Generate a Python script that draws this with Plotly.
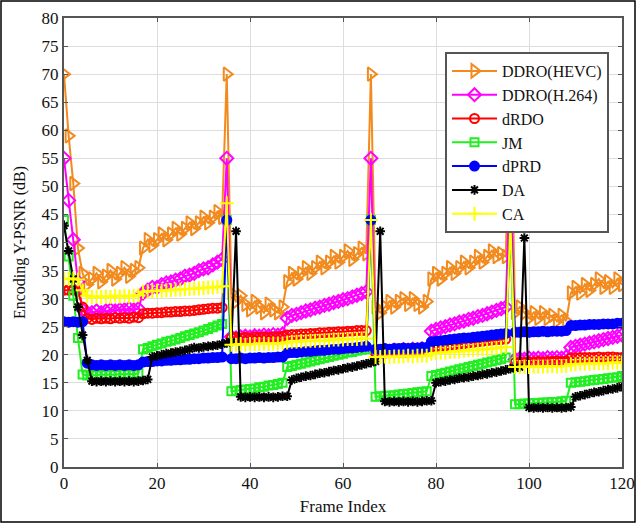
import plotly.graph_objects as go

frames = list(range(121))

ddro_hevc = [
    70, 59, 50.5, 39, 34.5, 32.5, 33.5, 34.5, 33, 34, 35, 33.5, 34.5, 35.5, 34, 35, 35.5,
    39, 40.5, 39.5, 40.5, 41.5, 40.5, 41.5, 42.5, 41.5, 42.5, 43.5, 42.5, 43.5, 44.5, 43.5, 44.5, 45.5, 44.5,
    70,
    31, 29.5, 30.5, 29, 28, 29.5, 28.5, 27.5, 29, 28, 27.5, 28.5,
    33, 34.5, 33.5, 34.5, 35.5, 34.5, 35.5, 36.5, 35.5, 36.5, 37.5, 36.5, 37.5, 38.5, 37, 38, 39, 38,
    70,
    28.5, 27.5, 28.5, 29.5, 28.5, 29.5, 30, 29, 30, 29, 28.5, 29.5,
    33.5, 34.5, 33.5, 34.5, 35.5, 34.5, 35.5, 36.5, 35.5, 36.5, 37.5, 36.5, 37.5, 38.5, 37.5, 38, 37.5,
    70,
    27.5, 28.5, 27.5, 26.5, 27.5, 26.5, 27.5, 26.5, 27, 26, 27, 26,
    31, 32, 31, 32.5, 31.5, 32.5, 33.5, 32, 33, 32, 33.5, 32.5,
]

ddro_h264 = [
    55, 47.5, 40.5, 33, 28, 27.5, 27.5, 27.8, 27.5, 27.8, 28, 27.8, 28, 28, 28.2, 28, 28.2,
    31, 31.5, 32, 32, 32.5, 32.8, 33, 33.3, 33.5, 34, 34.2, 34.5, 35, 35.3, 35.5, 36, 36.5, 37,
    55,
    23.2, 23, 23.2, 23.3, 23.2, 23.4, 23.3, 23.5, 23.4, 23.6, 23.5, 23.7,
    26.5, 27, 27.2, 27.5, 27.8, 28, 28.3, 28.5, 28.8, 29, 29.3, 29.5, 29.8, 30, 30.3, 30.6, 30.9, 31.2,
    55,
    20.6, 20.5, 20.7, 20.6, 20.8, 20.7, 20.9, 20.8, 21, 20.9, 21.1, 21,
    24.2, 24.5, 24.8, 25, 25.3, 25.5, 25.8, 26, 26.3, 26.5, 26.8, 27, 27.3, 27.6, 27.9, 28.2, 28.5,
    55,
    19.2, 19.3, 19.2, 19.4, 19.3, 19.4, 19.3, 19.5, 19.4, 19.5, 19.4, 19.6,
    21.3, 21.5, 21.7, 21.9, 22.1, 22.3, 22.5, 22.7, 22.9, 23.1, 23.3, 23.5,
]

drdo = [
    31.5, 31.5, 31.5, 31.3, 28.5, 26.5, 26.3, 26.5, 26.4, 26.5, 26.4, 26.6, 26.5, 26.6, 26.5, 26.7, 26.6,
    27.3, 27.4, 27.4, 27.5, 27.5, 27.6, 27.6, 27.7, 27.7, 27.8, 27.8, 27.9, 28, 28.1, 28.2, 28.3, 28.3, 28.4,
    44,
    23, 23.1, 23, 23.1, 23, 23.2, 23.1, 23.2, 23.1, 23.2, 23.2, 23.3,
    23.5, 23.6, 23.6, 23.7, 23.7, 23.8, 23.8, 23.9, 23.9, 24, 24, 24.1, 24.1, 24.2, 24.2, 24.3, 24.3, 24.3,
    44,
    20.3, 20.4, 20.3, 20.4, 20.4, 20.5, 20.4, 20.5, 20.5, 20.6, 20.5, 20.6,
    21.3, 21.4, 21.5, 21.6, 21.7, 21.8, 21.9, 22, 22.1, 22.2, 22.3, 22.4, 22.5, 22.6, 22.7, 22.7, 22.8,
    44,
    18.6, 18.7, 18.6, 18.7, 18.7, 18.8, 18.7, 18.8, 18.8, 18.9, 18.8, 18.9,
    19.4, 19.4, 19.5, 19.5, 19.5, 19.5, 19.6, 19.5, 19.6, 19.6, 19.5, 19.5,
]

jm = [
    44, 37.5, 30.5, 23, 16.5, 16.3, 16.4, 16.3, 16.5, 16.4, 16.5, 16.4, 16.6, 16.5, 16.6, 16.5, 16.7,
    21, 21.2, 21.5, 21.8, 22, 22.3, 22.5, 22.7, 23, 23.3, 23.5, 23.8, 24, 24.3, 24.6, 24.9, 25.2, 25.5,
    44,
    13.5, 13.6, 13.7, 13.8, 13.9, 14, 14.2, 14.3, 14.5, 14.6, 14.8, 15,
    17.8, 18, 18.2, 18.4, 18.6, 18.8, 19, 19.2, 19.4, 19.6, 19.8, 20, 20.2, 20.4, 20.5, 20.7, 20.9, 21,
    44,
    12.5, 12.6, 12.7, 12.7, 12.8, 12.9, 13, 13.1, 13.2, 13.3, 13.4, 13.5,
    16.2, 16.4, 16.6, 16.8, 17, 17.2, 17.4, 17.6, 17.8, 18, 18.2, 18.4, 18.6, 18.8, 19, 19.2, 19.5,
    44,
    11.2, 11.2, 11.3, 11.3, 11.4, 11.4, 11.5, 11.5, 11.6, 11.6, 11.7, 11.8,
    15, 15.1, 15.2, 15.3, 15.4, 15.5, 15.6, 15.7, 15.8, 15.9, 16, 16.2,
]

dprd = [
    25.9, 25.8, 25.9, 25.8, 25.9, 18.5, 18.2, 18.1, 18.2, 18.1, 18.2, 18.1, 18.2, 18.1, 18.2, 18.1, 18.2,
    18.7, 18.8, 18.8, 18.9, 18.9, 19, 19, 19.1, 19.1, 19.2, 19.2, 19.3, 19.3, 19.4, 19.4, 19.5, 19.5, 19.6,
    44,
    19.3, 19.3, 19.4, 19.3, 19.4, 19.4, 19.5, 19.4, 19.5, 19.5, 19.6, 19.6,
    20.3, 20.4, 20.4, 20.5, 20.6, 20.6, 20.7, 20.8, 20.8, 20.9, 21, 21, 21.1, 21.2, 21.2, 21.3, 21.4, 21.5,
    44,
    21, 21, 21.1, 21, 21.1, 21.1, 21.2, 21.1, 21.2, 21.2, 21.3, 21.3,
    22.3, 22.4, 22.5, 22.6, 22.7, 22.8, 22.9, 23, 23, 23.1, 23.2, 23.3, 23.4, 23.5, 23.6, 23.7, 23.8,
    44,
    24, 24, 24.1, 24, 24.1, 24.1, 24.2, 24.1, 24.2, 24.2, 24.2, 24.3,
    25.2, 25.2, 25.3, 25.3, 25.4, 25.4, 25.4, 25.5, 25.5, 25.5, 25.6, 25.6,
]

da = [
    43, 38.5, 33.5, 28.5, 23.5, 19, 15.3, 15.2, 15.3, 15.2, 15.3, 15.2, 15.3, 15.2, 15.3, 15.2, 15.3, 15.4, 15.6,
    19.6, 19.8, 20, 20.2, 20.3, 20.5, 20.6, 20.8, 21, 21.3, 21.2, 21.4, 21.5, 21.6, 21.7, 21.9,
    22.1,
    22.3, 42, 12.5, 12.4, 12.5, 12.4, 12.5, 12.4, 12.5, 12.4, 12.5, 12.6, 12.6,
    15.5, 15.8, 16, 16.2, 16.3, 16.5, 16.7, 16.8, 17, 17.2, 17.3, 17.5, 17.7, 17.8, 18, 18.2, 18.4,
    18.6,
    18.8, 42, 11.7, 11.6, 11.7, 11.6, 11.7, 11.6, 11.7, 11.6, 11.7, 11.8, 11.8,
    15, 15.2, 15.3, 15.5, 15.6, 15.8, 15.9, 16, 16.2, 16.3, 16.5, 16.6, 16.8, 16.9, 17.1, 17.3,
    17.5,
    17.6, 17.8, 40.8, 10.6, 10.5, 10.6, 10.5, 10.6, 10.5, 10.6, 10.5, 10.6, 10.7,
    12.5, 12.7, 12.9, 13.1, 13.3, 13.4, 13.6, 13.8, 13.9, 14.1, 14.3,
]

ca = [
    33.5, 33.5, 33.6, 33.4, 31.5, 30.5, 30.3, 30.4, 30.3, 30.4, 30.3, 30.5, 30.4, 30.5, 30.4, 30.5, 30.6,
    31.2, 31.3, 31.3, 31.4, 31.4, 31.5, 31.5, 31.6, 31.6, 31.7, 31.7, 31.8, 31.8, 31.9, 32, 32, 32.1, 32.2,
    47,
    21.8, 21.8, 21.9, 21.8, 21.9, 21.9, 21.9, 22, 21.9, 22, 22, 22,
    22.2, 22.3, 22.3, 22.4, 22.4, 22.5, 22.5, 22.5, 22.6, 22.6, 22.7, 22.7, 22.7, 22.8, 22.8, 22.8, 22.9, 22.9,
    44,
    19.6, 19.6, 19.7, 19.6, 19.7, 19.7, 19.7, 19.8, 19.7, 19.8, 19.8, 19.8,
    20.2, 20.3, 20.4, 20.4, 20.5, 20.6, 20.6, 20.7, 20.8, 20.8, 20.9, 21, 21, 21.1, 21.2, 21.3, 21.4,
    44,
    17.8, 17.8, 17.9, 17.8, 17.9, 17.9, 17.9, 17.9, 18, 17.9, 18, 18,
    18.3, 18.3, 18.4, 18.4, 18.4, 18.5, 18.5, 18.5, 18.5, 18.6, 18.6, 18.6,
]

series = [
    ("DDRO(HEVC)", ddro_hevc, "#F28A1E", "triangle-right-open", 12),
    ("DDRO(H.264)", ddro_h264, "#FF00FF", "diamond-open", 10),
    ("dRDO", drdo, "#FF0000", "circle-open", 9),
    ("JM", jm, "#22EE22", "square-open", 8),
    ("dPRD", dprd, "#0000FF", "circle", 9),
    ("DA", da, "#000000", "asterisk-open", 8),
    ("CA", ca, "#FFFF00", "cross-thin-open", 10),
]

fig = go.Figure()
for name, vals, color, sym, size in series:
    fig.add_trace(go.Scatter(
        x=frames, y=vals, name=name, mode="lines+markers",
        line=dict(color=color, width=2),
        marker=dict(symbol=sym, size=size, color=color, line=dict(color=color, width=2)),
    ))

L, R, T, B = 64, 14, 18, 56
W, H = 636, 523
pw, ph = W - L - R, H - T - B

font = "Liberation Serif"
axis_common = dict(
    showline=True, linecolor="#555555", linewidth=2, mirror="ticks",
    ticks="inside", ticklen=4, tickcolor="#555555",
    showgrid=True, gridcolor="#dddddd", gridwidth=1, zeroline=False,
    tickfont=dict(family=font, size=17, color="#111111"),
    ticklabeloverflow="allow", automargin=False,
)

fig.update_layout(
    width=W, height=H,
    margin=dict(l=L, r=R, t=T, b=B, autoexpand=False),
    paper_bgcolor="white", plot_bgcolor="white",
    font=dict(family=font, size=16, color="#111111"),
    xaxis=dict(range=[0, 120], dtick=20, tick0=0,
               title=dict(text="Frame Index", font=dict(family=font, size=17), standoff=8),
               **axis_common),
    yaxis=dict(range=[0, 80], dtick=5, tick0=0,
               title=dict(text="Encoding Y-PSNR (dB)", font=dict(family=font, size=16), standoff=12),
               **axis_common),
    legend=dict(
        x=(445 - L) / pw, y=(H - B - 52) / ph, xanchor="left", yanchor="top",
        bgcolor="white", bordercolor="#555555", borderwidth=2,
        font=dict(family=font, size=16, color="#111111"),
        itemwidth=45, tracegroupgap=0,
    ),
    showlegend=True,
    shapes=[dict(type="rect", xref="paper", yref="paper",
                 x0=(-L + 1) / pw, x1=(W - 1 - L) / pw,
                 y0=(-B + 1) / ph, y1=(H - 1 - B) / ph,
                 line=dict(color="#000000", width=1.5), fillcolor="rgba(0,0,0,0)", layer="below")],
)

fig.write_html("out.html")
